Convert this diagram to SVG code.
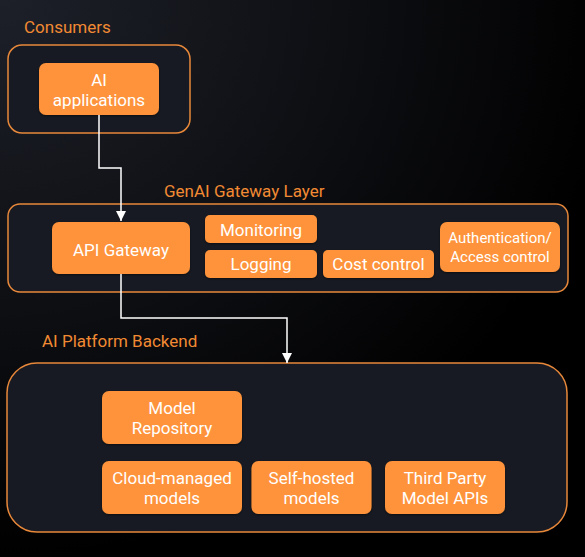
<svg xmlns="http://www.w3.org/2000/svg" width="585" height="557" viewBox="0 0 585 557">
<defs>
<radialGradient id="bg" cx="0" cy="0" r="1" gradientUnits="userSpaceOnUse" gradientTransform="translate(0 0) scale(620 560)">
<stop offset="0" stop-color="#1d2029"/>
<stop offset="0.55" stop-color="#0e0f13"/>
<stop offset="1" stop-color="#000000"/>
</radialGradient>
<marker id="ah" viewBox="0 0 10 10" refX="10" refY="5" markerWidth="10" markerHeight="10" markerUnits="userSpaceOnUse" orient="auto">
<path d="M0,0 L10,5 L0,10 z" fill="#ffffff"/>
</marker>
<filter id="sh" x="-10%" y="-10%" width="120%" height="130%">
<feDropShadow dx="0" dy="1" stdDeviation="1" flood-color="#000" flood-opacity="0.5"/>
</filter>
</defs>
<style>
.cont{fill:#171a22;stroke:#e8883a;stroke-width:1.5}
.box{fill:#fe933b;filter:url(#sh)}
.lbl{font-family:Roboto,"Liberation Sans",sans-serif;font-size:17px;fill:#f28a33}
.t{font-family:Roboto,"Liberation Sans",sans-serif;font-size:17px;fill:#ffffff;text-anchor:middle}
.ts{font-family:Roboto,"Liberation Sans",sans-serif;font-size:15px;fill:#ffffff;text-anchor:middle}
.conn{fill:none;stroke:#ffffff;stroke-width:1.5}
</style>
<rect width="585" height="557" fill="url(#bg)"/>

<g id="consumers">
<text class="lbl" x="24" y="33">Consumers</text>
<rect class="cont" x="8" y="45" width="182" height="88" rx="14"/>
</g>
<g id="ai-applications">
<rect class="box" x="39" y="63" width="120" height="52" rx="7"/>
<text class="t" x="99" y="86">AI</text>
<text class="t" x="99" y="106">applications</text>
</g>

<g id="gateway-layer">
<text class="lbl" x="164" y="197">GenAI Gateway Layer</text>
<rect class="cont" x="8" y="204" width="560" height="88" rx="12"/>
</g>
<g id="api-gateway">
<rect class="box" x="52" y="222" width="138" height="52" rx="7"/>
<text class="t" x="121" y="256">API Gateway</text>
</g>
<g id="monitoring">
<rect class="box" x="205" y="215" width="112" height="28" rx="5"/>
<text class="t" x="261" y="236">Monitoring</text>
</g>
<g id="logging">
<rect class="box" x="205" y="250" width="112" height="28" rx="5"/>
<text class="t" x="261" y="270">Logging</text>
</g>
<g id="cost-control">
<rect class="box" x="323" y="250" width="111" height="28" rx="5"/>
<text class="t" x="378.5" y="270">Cost control</text>
</g>
<g id="auth">
<rect class="box" x="440" y="222" width="120" height="50" rx="7"/>
<text class="ts" x="500" y="243">Authentication/</text>
<text class="ts" x="500" y="262">Access control</text>
</g>

<g id="backend">
<text class="lbl" x="42" y="347">AI Platform Backend</text>
<rect class="cont" x="7" y="363" width="560" height="169" rx="30"/>
</g>
<g id="model-repository">
<rect class="box" x="102" y="391" width="140" height="53" rx="7"/>
<text class="t" x="172" y="414">Model</text>
<text class="t" x="172" y="434">Repository</text>
</g>
<g id="cloud-managed">
<rect class="box" x="102" y="461" width="140" height="53" rx="7"/>
<text class="t" x="172" y="484">Cloud-managed</text>
<text class="t" x="172" y="504">models</text>
</g>
<g id="self-hosted">
<rect class="box" x="251.5" y="461" width="120" height="53" rx="7"/>
<text class="t" x="311.5" y="484">Self-hosted</text>
<text class="t" x="311.5" y="504">models</text>
</g>
<g id="third-party">
<rect class="box" x="385" y="461" width="120" height="53" rx="7"/>
<text class="t" x="445" y="484">Third Party</text>
<text class="t" x="445" y="504">Model APIs</text>
</g>

<g id="connectors">
<path class="conn" d="M99,115 V168 H121 V221" marker-end="url(#ah)"/>
<path class="conn" d="M121,274 V318 H287 V363" marker-end="url(#ah)"/>
</g>
</svg>
